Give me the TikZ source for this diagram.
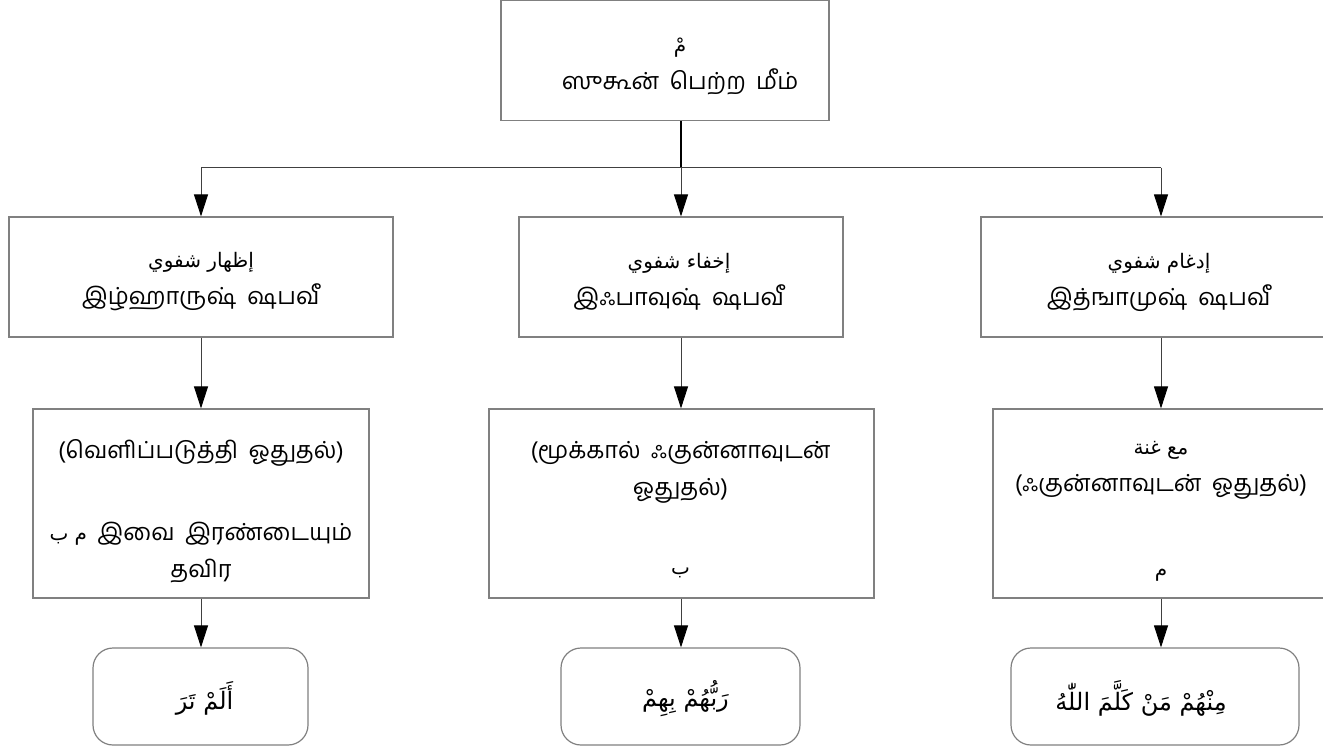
\documentclass[tikz,border=0pt]{standalone}
\usepackage{fontspec}
\setmainfont[Script=Tamil,WordSpace=1.8]{Hind Madurai}
\newfontfamily\arabicfont[Script=Arabic]{DejaVu Sans}
\TeXXeTstate=1
\usetikzlibrary{arrows.meta}

\newcommand{\arabtext}[2][20]{{\arabicfont\fontsize{#1}{#1}\selectfont\beginR #2\endR}}

\begin{document}
\begin{tikzpicture}[
    x=1pt, y=-1pt,
    block/.style={
      rectangle,
      draw=black!50,
      line width=1.2pt,
      inner sep=0pt
    },
    endblock/.style={block, rounded corners=20pt},
    boxtext/.style={
      align=center,
      inner sep=0pt,
      font=\fontsize{23.5}{37}\selectfont
    },
    link/.style={line width=0.9pt, black!75},
    >={Triangle[length=22pt,width=14pt,color=black]}
]

\clip (0,0) rectangle (1323,748);

% boxes
\node[block, minimum width=328pt, minimum height=120pt] (meem) at (665,60.5) {};

\node[block, minimum width=384pt, minimum height=120pt] (izhar) at (201,277) {};
\node[block, minimum width=324pt, minimum height=120pt] (ikhfa) at (681,277) {};
\node[block, minimum width=360pt, minimum height=120pt] (idgham) at (1161,277) {};

\node[block, minimum width=336pt, minimum height=189pt] (izhardesc) at (201,503.5) {};
\node[block, minimum width=385pt, minimum height=189pt] (ikhfadesc) at (681.5,503.5) {};
\node[block, minimum width=336pt, minimum height=189pt] (idghamdesc) at (1161,503.5) {};

\node[endblock, minimum width=215pt, minimum height=97pt] (izharex) at (200.5,696.5) {};
\node[endblock, minimum width=239pt, minimum height=97pt] (ikhfaex) at (680.5,696.5) {};
\node[endblock, minimum width=288pt, minimum height=97pt] (idghamex) at (1155,696.5) {};

% texts
\node[boxtext] (meemtext) at ([shift={(15,6)}]meem) {\arabtext{مْ}\\ ஸுகூன் பெற்ற மீம்};

\node[boxtext] (izhartext) at ([shift={(0,5)}]izhar) {\arabtext{إظهار شفوي}\\ இழ்ஹாருஷ் ஷபவீ};
\node[boxtext] (ikhfatext) at ([shift={(-2,5)}]ikhfa) {\arabtext{إخفاء شفوي}\\ இஃபாவுஷ் ஷபவீ};
\node[boxtext] (idghamtext) at ([shift={(-2,5)}]idgham) {\arabtext{إدغام شفوي}\\ இத்ஙாமுஷ் ஷபவீ};

\node[boxtext] (izhardesctext) at ([shift={(0,8)}]izhardesc) {(வெளிப்படுத்தி ஓதுதல்)\\[45pt] \arabtext{م ب} இவை இரண்டையும்\\ தவிர};
\node[boxtext] (ikhfadesctext) at ([shift={(-1,6)}]ikhfadesc) {(மூக்கால் ஃகுன்னாவுடன்\\ ஓதுதல்)\\[42pt] \arabtext{ب}};
\node[boxtext] (idghamdesctext) at ([shift={(0,8)}]idghamdesc) {\arabtext{مع غنة}\\ (ஃகுன்னாவுடன் ஓதுதல்)\\[48pt] \arabtext{م}};

\node[boxtext] (izharextext) at ([shift={(4,2)}]izharex) {\arabtext[24]{أَلَمْ تَرَ}};
\node[boxtext] (ikhfaextext) at ([shift={(5,2)}]ikhfaex) {\arabtext[24]{رَبُّهُمْ بِهِمْ}};
\node[boxtext] (idghamextext) at ([shift={(-14,2)}]idghamex) {\arabtext[24]{مِنْهُمْ مَنْ كَلَّمَ اللّٰهُ}};

% connectors
\coordinate (split) at (681,167.5);

\draw[line width=1.3pt] (meem.south -| ikhfa.north) -- (split);
\draw[->,link] (split) -- (ikhfa.north);
\draw[link] (split -| izhar.north) -- (split -| idgham.north);
\draw[->,link] (split -| izhar.north) -- (izhar.north);
\draw[->,link] (split -| idgham.north) -- (idgham.north);

\draw[->,link] (izhar.south) -- (izhar.south |- izhardesc.north);
\draw[->,link] (ikhfa.south) -- (ikhfa.south |- ikhfadesc.north);
\draw[->,link] (idgham.south) -- (idgham.south |- idghamdesc.north);

\draw[->,link] (izhardesc.south -| izhar.south) -- (izhar.south |- izharex.north);
\draw[->,link] (ikhfadesc.south -| ikhfa.south) -- (ikhfa.south |- ikhfaex.north);
\draw[->,link] (idghamdesc.south -| idgham.south) -- (idgham.south |- idghamex.north);

\end{tikzpicture}
\end{document}
